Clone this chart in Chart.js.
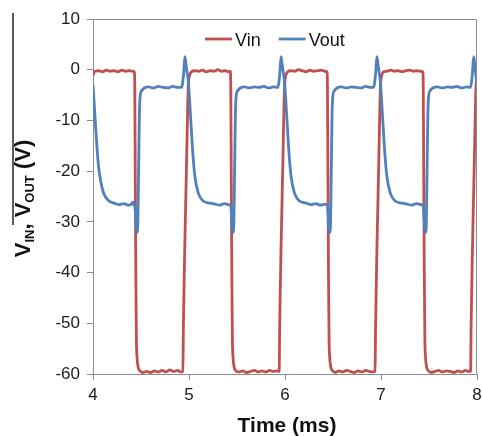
<!DOCTYPE html>
<html>
<head>
<meta charset="utf-8">
<script src="https://cdn.jsdelivr.net/npm/chart.js@4.4.1/dist/chart.umd.min.js"></script>
<style>
  html, body { margin: 0; padding: 0; background: #ffffff; }
  #wrap { position: relative; width: 482px; height: 436px; }
  #edge { position: absolute; left: 12px; top: 13px; width: 2px; height: 212px; background: #5a5a5a; }
</style>
</head>
<body>
<div id="wrap">
  <canvas id="c" width="482" height="436"></canvas>
  <div id="edge"></div>
</div>
<script>
// ---- data (time in ms, voltage in V) ----
const seriesNames = ['Vin', 'Vout'];
const xTickValues = [4, 5, 6, 7, 8];
const yTickValues = [10, 0, -10, -20, -30, -40, -50, -60];

const vinTime = [
  4.000, 4.010, 4.025, 4.060, 4.100, 4.140, 4.180, 4.220, 4.260, 4.300, 4.340, 4.380, 4.410, 4.430,
  4.435, 4.440, 4.446, 4.452, 4.458, 4.470, 4.490, 4.520, 4.560, 4.600, 4.640, 4.680, 4.720, 4.760,
  4.800, 4.840, 4.880, 4.910, 4.936, 4.942, 4.955, 4.975, 4.988, 4.995, 5.005, 5.025,
  5.060, 5.100, 5.140, 5.180, 5.220, 5.260, 5.300, 5.340, 5.380, 5.410, 5.430,
  5.435, 5.440, 5.446, 5.452, 5.458, 5.470, 5.490, 5.520, 5.560, 5.600, 5.640, 5.680, 5.720, 5.760,
  5.800, 5.840, 5.880, 5.915, 5.939, 5.945, 5.958, 5.978, 5.991, 5.998, 6.008, 6.028,
  6.060, 6.100, 6.140, 6.180, 6.220, 6.260, 6.300, 6.340, 6.380, 6.415, 6.437,
  6.442, 6.447, 6.453, 6.459, 6.465, 6.477, 6.497, 6.527, 6.560, 6.600, 6.640, 6.680, 6.720, 6.760,
  6.800, 6.840, 6.880, 6.915, 6.938, 6.944, 6.957, 6.977, 6.990, 6.997, 7.007, 7.027,
  7.060, 7.100, 7.140, 7.180, 7.220, 7.260, 7.300, 7.340, 7.380, 7.410, 7.435,
  7.440, 7.445, 7.451, 7.457, 7.463, 7.475, 7.495, 7.525, 7.560, 7.600, 7.640, 7.680, 7.720, 7.760,
  7.800, 7.840, 7.880, 7.910, 7.933, 7.939, 7.952, 7.972, 7.985, 7.992, 8.000
];
const vinValues = [
  -1.2, -0.5, -0.3, -0.2, -0.4, -0.1, -0.3, -0.2, -0.4, -0.1, -0.3, -0.2, -0.3, -0.4,
  -3, -20, -40, -53, -56.5, -58.6, -59.4, -59.7, -59.5, -59.7, -59.4, -59.6, -59.3, -59.6,
  -59.2, -59.5, -59.3, -59.6, -59.5, -50, -36, -18, -6, -2.5, -1.2, -0.4,
  -0.2, -0.3, -0.1, -0.4, -0.2, -0.3, 0.0, -0.3, -0.2, -0.4, -0.3,
  -3, -20, -40, -53, -56.5, -58.6, -59.4, -59.6, -59.4, -59.7, -59.5, -59.3, -59.6, -59.4,
  -59.6, -59.3, -59.5, -59.4, -59.5, -50, -36, -18, -6, -2.5, -1.2, -0.4,
  -0.2, -0.3, 0.0, -0.2, -0.4, -0.1, -0.3, -0.2, -0.1, -0.3, -0.4,
  -3, -20, -40, -53, -56.5, -58.6, -59.4, -59.7, -59.4, -59.6, -59.3, -59.5, -59.7, -59.4,
  -59.6, -59.3, -59.5, -59.6, -59.5, -50, -36, -18, -6, -2.5, -1.2, -0.4,
  -0.3, -0.1, -0.3, -0.2, -0.4, -0.2, -0.1, -0.3, -0.2, -0.3, -0.4,
  -3, -20, -40, -53, -56.5, -58.6, -59.4, -59.7, -59.5, -59.3, -59.6, -59.4, -59.5, -59.7,
  -59.4, -59.6, -59.3, -59.5, -59.5, -50, -36, -18, -6, -2.5, -1.2
];

const voutTime = [
  4.000, 4.015, 4.035, 4.055, 4.080, 4.110, 4.160, 4.220, 4.270, 4.320, 4.370, 4.400, 4.415, 4.425,
  4.435, 4.445, 4.453, 4.465, 4.475, 4.483, 4.491, 4.505, 4.535, 4.580, 4.630, 4.680, 4.730, 4.780,
  4.830, 4.880, 4.920, 4.932, 4.945, 4.957, 4.968, 4.980, 4.991, 5.016, 5.037, 5.061, 5.096, 5.148,
  5.218, 5.270, 5.320, 5.370, 5.410,
  5.435, 5.445, 5.453, 5.465, 5.475, 5.483, 5.491, 5.505, 5.535, 5.580, 5.630, 5.680, 5.730, 5.780,
  5.830, 5.880, 5.925, 5.934, 5.947, 5.959, 5.970, 5.982, 5.993, 6.018, 6.039, 6.063, 6.098, 6.150,
  6.220, 6.270, 6.320, 6.370, 6.420,
  6.442, 6.452, 6.460, 6.472, 6.482, 6.490, 6.498, 6.512, 6.542, 6.590, 6.640, 6.690, 6.740, 6.790,
  6.840, 6.890, 6.923, 6.932, 6.945, 6.957, 6.968, 6.980, 6.991, 7.016, 7.037, 7.061, 7.096, 7.148,
  7.218, 7.270, 7.320, 7.370, 7.420,
  7.440, 7.450, 7.458, 7.470, 7.480, 7.488, 7.496, 7.510, 7.540, 7.590, 7.640, 7.690, 7.740, 7.790,
  7.840, 7.890, 7.931, 7.940, 7.953, 7.965, 7.976, 7.988, 8.000
];
const voutValues = [
  -3.0, -7.5, -13.5, -18.5, -22.0, -24.3, -25.8, -26.3, -26.6, -26.4, -26.7, -26.5, -26.1, -26.6,
  -26.8, -29.5, -32.2, -31.5, -20, -9, -5.2, -4.2, -3.6, -3.4, -3.6, -3.3, -3.5, -3.6,
  -3.3, -3.5, -3.5, -2.8, -0.5, 2.6, 1.2, -0.5, -1.9, -9.1, -15.7, -21.0, -24.3, -25.9,
  -26.3, -26.5, -26.7, -26.4, -26.6,
  -26.8, -29.5, -32.2, -31.5, -20, -9, -5.2, -4.2, -3.6, -3.4, -3.6, -3.4, -3.5, -3.3,
  -3.6, -3.4, -3.5, -2.8, -0.5, 2.6, 1.2, -0.5, -1.9, -9.1, -15.7, -21.0, -24.3, -25.9,
  -26.3, -26.6, -26.4, -26.7, -26.5,
  -26.8, -29.5, -32.2, -31.5, -20, -9, -5.2, -4.2, -3.6, -3.4, -3.6, -3.4, -3.5, -3.6,
  -3.3, -3.5, -3.5, -2.8, -0.5, 2.6, 1.2, -0.5, -1.9, -9.1, -15.7, -21.0, -24.3, -25.9,
  -26.3, -26.5, -26.7, -26.4, -26.6,
  -26.8, -29.5, -32.2, -31.5, -20, -9, -5.2, -4.2, -3.6, -3.4, -3.6, -3.4, -3.5, -3.3,
  -3.6, -3.4, -3.5, -2.8, -0.5, 2.6, 1.2, -1.0, -3.0
];

const seriesColors = ['#C0504D', '#4F81BD'];
const FONT = "'Liberation Sans', Arial, sans-serif";

function pts(xs, ys) { return xs.map((x, i) => ({ x: x, y: ys[i] })); }

const decor = {
  id: 'decor',
  afterDraw(chart) {
    const ctx = chart.ctx;
    const a = chart.chartArea;
    ctx.save();
    // top + right frame
    ctx.strokeStyle = '#8c8c8c';
    ctx.lineWidth = 1;
    ctx.beginPath();
    ctx.moveTo(a.left, a.top + 0.5);
    ctx.lineTo(a.right - 0.5, a.top + 0.5);
    ctx.lineTo(a.right - 0.5, a.bottom);
    ctx.stroke();

    // legend inside the plot (from dataset labels/colours)
    ctx.font = '18px ' + FONT;
    ctx.textBaseline = 'alphabetic';
    ctx.textAlign = 'left';
    let lx = 205;
    const ly = 39;
    chart.data.datasets.forEach((ds, i) => {
      ctx.strokeStyle = ds.borderColor;
      ctx.lineWidth = 2.8;
      ctx.beginPath();
      ctx.moveTo(lx, ly);
      ctx.lineTo(lx + 27, ly);
      ctx.stroke();
      ctx.fillStyle = '#111';
      ctx.fillText(ds.label, lx + 30, ly + 6.5);
      lx += 30 + ctx.measureText(ds.label).width + 18;
    });

    // x title
    ctx.fillStyle = '#111';
    ctx.font = 'bold 21px ' + FONT;
    ctx.textAlign = 'center';
    ctx.fillText('Time (ms)', (a.left + a.right) / 2 + 2, 432);

    // y title with subscripts
    const parts = [['V', 0], ['IN', 1], [', V', 0], ['OUT', 1], [' (V)', 0]];
    const mainF = 'bold 22px ' + FONT, subF = 'bold 13px ' + FONT;
    let total = 0;
    parts.forEach(p => { ctx.font = p[1] ? subF : mainF; total += ctx.measureText(p[0]).width; });
    ctx.translate(30, (a.top + a.bottom) / 2 + 2);
    ctx.rotate(-Math.PI / 2);
    ctx.textAlign = 'left';
    let px = -total / 2;
    parts.forEach(p => {
      ctx.font = p[1] ? subF : mainF;
      ctx.fillText(p[0], px, p[1] ? 4 : 0);
      px += ctx.measureText(p[0]).width;
    });
    ctx.restore();
  }
};

new Chart(document.getElementById('c'), {
  type: 'line',
  data: {
    datasets: [
      { label: seriesNames[0], data: pts(vinTime, vinValues), borderColor: seriesColors[0], backgroundColor: seriesColors[0],
        borderWidth: 2.8, pointRadius: 0, cubicInterpolationMode: 'monotone', order: 2 },
      { label: seriesNames[1], data: pts(voutTime, voutValues), borderColor: seriesColors[1], backgroundColor: seriesColors[1],
        borderWidth: 2.8, pointRadius: 0, cubicInterpolationMode: 'monotone', order: 1 }
    ]
  },
  options: {
    responsive: false,
    animation: false,
    devicePixelRatio: 1,
    layout: { padding: { left: 0, top: 19, right: 5, bottom: 0 } },
    plugins: { legend: { display: false }, tooltip: { enabled: false } },
    scales: {
      x: {
        type: 'linear', min: 4, max: 8,
        afterBuildTicks: s => { s.ticks = xTickValues.map(v => ({ value: v })); },
        afterFit: s => { s.height = 62; s.paddingLeft = 0; s.paddingRight = 0; },
        ticks: { color: '#1a1a1a', font: { family: FONT, size: 17 }, padding: 5 },
        grid: { drawOnChartArea: false, drawTicks: true, tickLength: 6, color: '#8c8c8c' },
        border: { color: '#8c8c8c', width: 1 }
      },
      y: {
        type: 'linear', min: -60, max: 10,
        afterBuildTicks: s => { s.ticks = yTickValues.map(v => ({ value: v })); },
        afterFit: s => { s.width = 93; s.paddingTop = 0; s.paddingBottom = 0; },
        ticks: { color: '#1a1a1a', font: { family: FONT, size: 17 }, padding: 7 },
        grid: { drawOnChartArea: false, drawTicks: true, tickLength: 6, color: '#8c8c8c' },
        border: { color: '#8c8c8c', width: 1 }
      }
    }
  },
  plugins: [decor]
});
</script>
</body>
</html>
